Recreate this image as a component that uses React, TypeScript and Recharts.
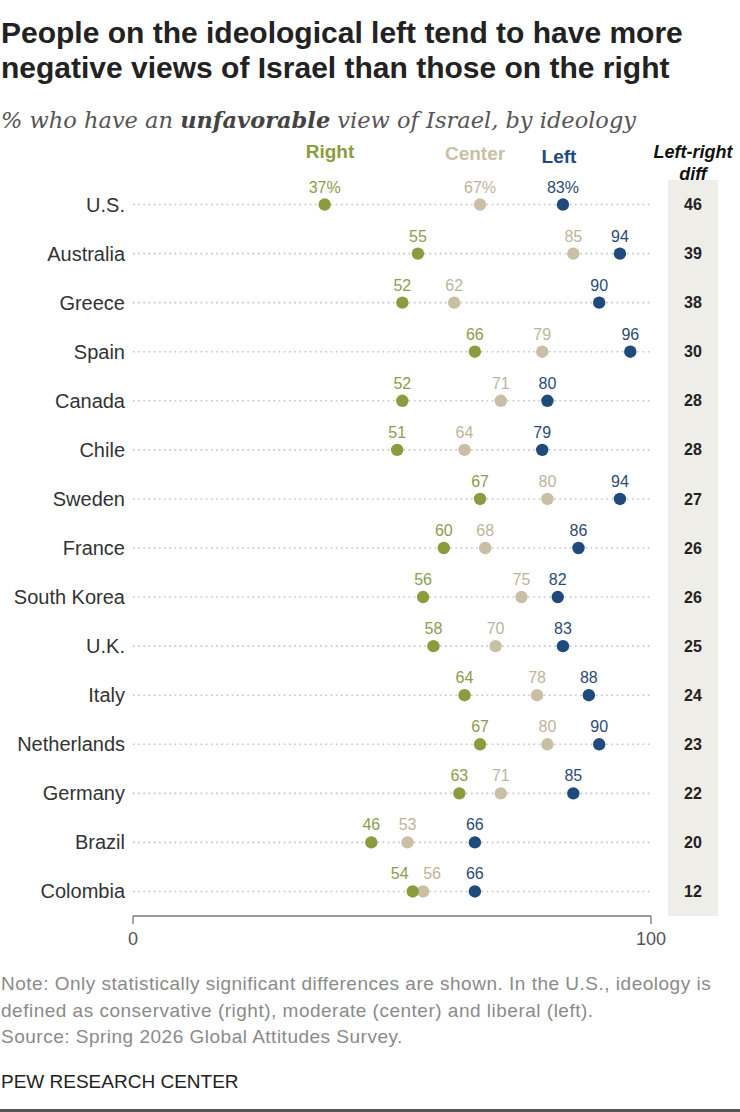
import React from 'react';
import { ScatterChart, Scatter, XAxis, YAxis, ReferenceLine } from 'recharts';

const countries = ['U.S.', 'Australia', 'Greece', 'Spain', 'Canada', 'Chile', 'Sweden', 'France', 'South Korea', 'U.K.', 'Italy', 'Netherlands', 'Germany', 'Brazil', 'Colombia'];
const rightVals = [37, 55, 52, 66, 52, 51, 67, 60, 56, 58, 64, 67, 63, 46, 54];
const centerVals = [67, 85, 62, 79, 71, 64, 80, 68, 75, 70, 78, 80, 71, 53, 56];
const leftVals = [83, 94, 90, 96, 80, 79, 94, 86, 82, 83, 88, 90, 85, 66, 66];
const diffVals = [46, 39, 38, 30, 28, 28, 27, 26, 26, 25, 24, 23, 22, 20, 12];
const xTicks = [0, 100];
const rowTicks = countries.map((_, i) => i);

const C_RIGHT = '#8b9c3e';
const C_RIGHT_L = '#8d9b50';
const C_CENTER = '#c8bfa5';
const C_CENTER_L = '#bdb49b';
const C_LEFT = '#1f4a7c';
const C_LEFT_L = '#2b4b74';

const SANS = '"Liberation Sans", Arial, sans-serif';

type Kind = 'right' | 'center' | 'left';

const buildData = (vals: number[]) =>
  vals.map((v, i) => ({ x: v, y: i, idx: i }));

const makeShape = (kind: Kind, fill: string, labelFill: string) => (props: any) => {
  const { cx, cy, payload } = props;
  if (cx == null || cy == null) return null;
  const i = payload.idx;
  let dx = 0;
  const gap = centerVals[i] - rightVals[i];
  if (kind === 'right' && gap < 4) dx = -13;
  if (kind === 'center' && gap < 4) dx = 9;
  const label = i === 0 ? `${payload.x}%` : `${payload.x}`;
  return (
    <g>
      <circle cx={cx} cy={cy} r={6.2} fill={fill} />
      <text x={cx + dx} y={cy - 12} textAnchor="middle" fontSize={16} fill={labelFill} fontFamily={SANS}>
        {label}
      </text>
    </g>
  );
};

const CountryTick = (props: any) => {
  const { x, y, payload } = props;
  const i = payload.value;
  return (
    <g>
      <text x={x} y={y} dy="0.35em" textAnchor="end" fontSize={20} fill="#333" fontFamily={SANS}>
        {countries[i]}
      </text>
      <text x={693} y={y} dy="0.35em" textAnchor="middle" fontSize={16} fontWeight="bold" fill="#222" fontFamily={SANS}>
        {diffVals[i]}
      </text>
    </g>
  );
};

const abs = (style: React.CSSProperties): React.CSSProperties => ({ position: 'absolute', margin: 0, ...style });

export default function App() {
  return (
    <div style={{ position: 'absolute', left: 0, top: 0, width: 740, height: 1112, background: '#fff', overflow: 'hidden', fontFamily: SANS }}>
      <div style={abs({ left: 1, top: 15, fontSize: 30, lineHeight: '35px', fontWeight: 'bold', color: '#222', whiteSpace: 'nowrap' })}>
        People on the ideological left tend to have more<br />negative views of Israel than those on the right
      </div>
      <div style={abs({ left: 1, top: 105, fontSize: 22.5, lineHeight: '30px', fontStyle: 'italic', color: '#555', fontFamily: '"DejaVu Serif", serif', whiteSpace: 'nowrap' })}>
        % who have an <b style={{ color: '#444' }}>unfavorable</b> view of Israel, by ideology
      </div>
      <div style={abs({ left: 668, top: 180, width: 50, height: 736, background: '#eeede7' })} />
      <div style={abs({ left: 280, top: 141, width: 100, textAlign: 'center', fontSize: 19, lineHeight: '22px', fontWeight: 'bold', color: C_RIGHT })}>Right</div>
      <div style={abs({ left: 425, top: 143, width: 100, textAlign: 'center', fontSize: 19, lineHeight: '22px', fontWeight: 'bold', color: C_CENTER })}>Center</div>
      <div style={abs({ left: 509, top: 146, width: 100, textAlign: 'center', fontSize: 19, lineHeight: '22px', fontWeight: 'bold', color: C_LEFT })}>Left</div>
      <div style={abs({ left: 643, top: 141, width: 100, textAlign: 'center', fontSize: 18, lineHeight: '22px', fontWeight: 'bold', fontStyle: 'italic', color: '#111' })}>
        Left-right<br />diff
      </div>
      <div style={abs({ left: 0, top: 0 })}>
        <ScatterChart width={740} height={960} margin={{ top: 180, right: 89, left: 0, bottom: 0 }}>
          <XAxis
            type="number"
            dataKey="x"
            domain={[0, 100]}
            ticks={xTicks}
            height={44}
            tickSize={8}
            tickMargin={8}
            stroke="#777"
            strokeWidth={1.3}
            tick={{ fontSize: 18, fill: '#555', fontFamily: SANS }}
          />
          <YAxis
            type="number"
            dataKey="y"
            domain={[-0.5, 14.5]}
            reversed
            ticks={rowTicks}
            interval={0}
            width={133}
            axisLine={false}
            tickLine={false}
            tickSize={0}
            tickMargin={8}
            tick={<CountryTick />}
          />
          {rowTicks.map((r) => (
            <ReferenceLine key={r} y={r} stroke="#c4c4c4" strokeWidth={1.6} strokeDasharray="1.6 3.6" />
          ))}
          <Scatter data={buildData(centerVals)} isAnimationActive={false} shape={makeShape('center', C_CENTER, C_CENTER_L)} />
          <Scatter data={buildData(rightVals)} isAnimationActive={false} shape={makeShape('right', C_RIGHT, C_RIGHT_L)} />
          <Scatter data={buildData(leftVals)} isAnimationActive={false} shape={makeShape('left', C_LEFT, C_LEFT_L)} />
        </ScatterChart>
      </div>
      <div style={abs({ left: 1, top: 971, fontSize: 19, letterSpacing: 0.5, lineHeight: '26.5px', color: '#8a8a8a', whiteSpace: 'nowrap' })}>
        Note: Only statistically significant differences are shown. In the U.S., ideology is<br />
        defined as conservative (right), moderate (center) and liberal (left).<br />
        Source: Spring 2026 Global Attitudes Survey.
      </div>
      <div style={abs({ left: 1, top: 1071, fontSize: 19, lineHeight: '22px', color: '#222', whiteSpace: 'nowrap' })}>
        PEW RESEARCH CENTER
      </div>
      <div style={abs({ left: 0, top: 1109, width: 740, height: 3, background: '#555' })} />
    </div>
  );
}
